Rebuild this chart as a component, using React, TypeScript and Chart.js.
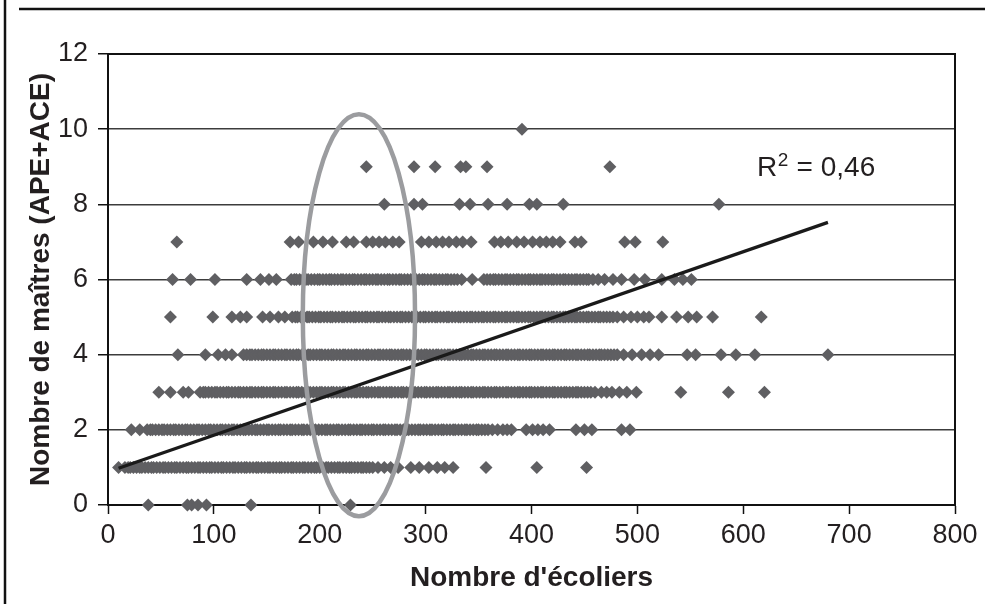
import { useEffect, useRef } from "react";
import { Chart, registerables } from "chart.js";

Chart.register(...registerables);

// ---- Data (x = Nombre d'écoliers, one array per value of y = Nombre de maîtres) ----
const LEVELS = [0, 1, 2, 3, 4, 5, 6, 7, 8, 9, 10];

const ROW0 = [38, 75, 79, 85, 93, 135, 229];
const ROW1 = [10, 16, 19, 21, 24, 27, 30, 32, 35, 38, 41, 43, 46, 49, 52, 54, 57, 60, 63, 65, 68, 71, 74, 76, 79, 82, 85, 87, 90, 93, 96, 98, 101, 104, 107, 109, 112, 115, 118, 120, 123, 126, 129, 131, 134, 137, 140, 142, 145, 148, 151, 153, 156, 159, 162, 164, 167, 170, 173, 175, 178, 181, 184, 186, 189, 192, 195, 197, 200, 203, 206, 208, 211, 214, 217, 219, 222, 225, 228, 230, 233, 236, 239, 241, 244, 247, 250, 255, 261, 267, 274, 286, 294, 303, 311, 318, 326, 357, 405, 452];
const ROW2 = [22, 30, 37, 40, 42, 45, 48, 51, 53, 56, 59, 62, 64, 67, 70, 73, 75, 78, 81, 84, 86, 89, 92, 95, 97, 100, 103, 106, 108, 111, 114, 117, 119, 122, 125, 128, 130, 133, 136, 139, 141, 144, 147, 150, 152, 155, 158, 161, 163, 166, 169, 172, 174, 177, 180, 183, 185, 188, 191, 194, 196, 199, 202, 205, 207, 210, 213, 216, 218, 221, 224, 227, 229, 232, 235, 238, 240, 243, 246, 249, 251, 254, 257, 260, 262, 265, 268, 271, 273, 276, 279, 282, 284, 287, 290, 293, 295, 298, 301, 304, 306, 309, 312, 315, 317, 320, 323, 326, 328, 331, 334, 337, 339, 342, 345, 348, 350, 353, 356, 359, 363, 368, 373, 377, 381, 395, 401, 406, 411, 417, 442, 450, 457, 485, 493];
const ROW3 = [48, 59, 71, 76, 87, 90, 92, 95, 98, 101, 103, 106, 109, 112, 114, 117, 120, 123, 125, 128, 131, 134, 136, 139, 142, 145, 147, 150, 153, 156, 158, 161, 164, 167, 169, 172, 175, 178, 180, 183, 186, 189, 191, 194, 197, 200, 202, 205, 208, 211, 213, 216, 219, 222, 224, 227, 230, 233, 235, 238, 241, 244, 246, 249, 252, 255, 257, 260, 263, 266, 268, 271, 274, 277, 279, 282, 285, 288, 290, 293, 296, 299, 301, 304, 307, 310, 312, 315, 318, 321, 323, 326, 329, 332, 334, 337, 340, 343, 345, 348, 351, 354, 356, 359, 362, 365, 367, 370, 373, 376, 378, 381, 384, 387, 389, 392, 395, 398, 400, 403, 406, 409, 411, 414, 417, 420, 422, 425, 428, 431, 433, 436, 439, 442, 444, 447, 450, 453, 456, 460, 466, 471, 476, 483, 490, 499, 541, 586, 620];
const ROW4 = [66, 92, 104, 111, 117, 128, 131, 134, 136, 139, 142, 145, 147, 150, 153, 156, 158, 161, 164, 167, 169, 172, 175, 178, 180, 183, 186, 189, 191, 194, 197, 200, 202, 205, 208, 211, 213, 216, 219, 222, 224, 227, 230, 233, 235, 238, 241, 244, 246, 249, 252, 255, 257, 260, 263, 266, 268, 271, 274, 277, 279, 282, 285, 288, 290, 293, 296, 299, 301, 304, 307, 310, 312, 315, 318, 321, 323, 326, 329, 332, 334, 337, 340, 343, 345, 348, 351, 354, 356, 359, 362, 365, 367, 370, 373, 376, 378, 381, 384, 387, 389, 392, 395, 398, 400, 403, 406, 409, 411, 414, 417, 420, 422, 425, 428, 431, 433, 436, 439, 442, 444, 447, 450, 453, 455, 458, 461, 464, 466, 469, 472, 475, 478, 481, 487, 495, 504, 512, 520, 547, 555, 579, 593, 611, 680];
const ROW5 = [59, 99, 117, 125, 131, 146, 153, 161, 167, 174, 177, 179, 182, 185, 188, 190, 193, 196, 199, 201, 204, 207, 210, 212, 215, 218, 221, 223, 226, 229, 232, 234, 237, 240, 243, 245, 248, 251, 254, 256, 259, 262, 265, 267, 270, 273, 276, 278, 281, 284, 287, 289, 292, 295, 298, 300, 303, 306, 309, 311, 314, 317, 320, 322, 325, 328, 331, 333, 336, 339, 342, 344, 347, 350, 353, 355, 358, 361, 364, 366, 369, 372, 375, 377, 380, 383, 386, 388, 391, 394, 397, 399, 402, 405, 408, 410, 413, 416, 419, 421, 424, 427, 430, 432, 435, 438, 441, 443, 446, 449, 452, 454, 457, 460, 463, 465, 468, 471, 474, 477, 481, 487, 494, 500, 506, 511, 523, 537, 548, 556, 571, 617];
const ROW6 = [61, 78, 101, 131, 144, 152, 159, 173, 176, 178, 181, 184, 187, 189, 192, 195, 198, 200, 203, 206, 209, 211, 214, 217, 220, 222, 225, 228, 231, 233, 236, 239, 242, 244, 247, 250, 253, 255, 258, 261, 264, 266, 269, 272, 275, 277, 280, 283, 286, 288, 291, 294, 297, 299, 302, 305, 308, 310, 313, 316, 319, 321, 324, 327, 330, 334, 344, 355, 358, 361, 364, 366, 369, 372, 375, 377, 380, 383, 386, 388, 391, 394, 397, 399, 402, 405, 408, 410, 413, 416, 419, 421, 424, 427, 430, 432, 435, 438, 441, 443, 446, 449, 452, 454, 458, 463, 469, 477, 485, 497, 507, 523, 535, 543, 551];
const ROW7 = [65, 172, 180, 194, 203, 212, 225, 232, 244, 250, 256, 262, 269, 275, 296, 303, 310, 316, 322, 329, 335, 343, 365, 371, 378, 386, 393, 401, 408, 414, 420, 427, 441, 447, 488, 498, 524];
const ROW8 = [261, 289, 297, 332, 342, 359, 377, 398, 405, 430, 577];
const ROW9 = [244, 289, 309, 333, 338, 358, 474];
const ROW10 = [391];

const ROWS = [ROW0, ROW1, ROW2, ROW3, ROW4, ROW5, ROW6, ROW7, ROW8, ROW9, ROW10];

// Linear trend line end points
const TREND_X = [10, 680];
const TREND_Y = [0.98, 7.52];
const R2_LABEL = ["R", "2", " = 0,46"];
const R2_AT = { x: 613, y: 8.75 };

// Highlight ellipse (data units)
const ELLIPSE = { cx: 237, cy: 5.05, rx: 53, ry: 5.35 };

// Axes
const X_MIN = 0, X_MAX = 800, X_STEP = 100;
const Y_MIN = 0, Y_MAX = 12, Y_STEP = 2;
const X_TITLE = "Nombre d'écoliers";
const Y_TITLE = "Nombre de maîtres (APE+ACE)";

const FONT = '"Liberation Sans", Arial, sans-serif';
const TEXT = "#231f20";

const overlayPlugin = {
  id: "overlay",
  beforeDraw(chart: any) {
    const { ctx, width, height } = chart;
    ctx.save();
    ctx.fillStyle = "#ffffff";
    ctx.fillRect(0, 0, width, height);
    ctx.strokeStyle = "#111";
    ctx.lineWidth = 2.5;
    ctx.beginPath();
    ctx.moveTo(19, 9);
    ctx.lineTo(width, 9);
    ctx.moveTo(5, 0);
    ctx.lineTo(5, height);
    ctx.stroke();
    ctx.restore();
  },
  beforeDatasetsDraw(chart: any) {
    const { ctx, chartArea: a } = chart;
    ctx.save();
    ctx.strokeStyle = "#111";
    ctx.lineWidth = 2;
    ctx.strokeRect(a.left, a.top, a.right - a.left, a.bottom - a.top);
    ctx.restore();
  },
  afterDraw(chart: any) {
    const { ctx } = chart;
    const x = chart.scales.x;
    const y = chart.scales.y;
    ctx.save();
    const cx = x.getPixelForValue(ELLIPSE.cx);
    const cy = y.getPixelForValue(ELLIPSE.cy);
    const rx = x.getPixelForValue(ELLIPSE.cx + ELLIPSE.rx) - cx;
    const ry = cy - y.getPixelForValue(ELLIPSE.cy + ELLIPSE.ry);
    ctx.beginPath();
    ctx.ellipse(cx, cy, rx, ry, 0, 0, Math.PI * 2);
    ctx.strokeStyle = "#9b9c9f";
    ctx.lineWidth = 4.5;
    ctx.stroke();

    // R² label
    const px = x.getPixelForValue(R2_AT.x);
    const py = y.getPixelForValue(R2_AT.y);
    ctx.fillStyle = TEXT;
    ctx.textBaseline = "alphabetic";
    ctx.textAlign = "left";
    ctx.font = `28px ${FONT}`;
    ctx.fillText(R2_LABEL[0], px, py);
    const w0 = ctx.measureText(R2_LABEL[0]).width;
    ctx.font = `19px ${FONT}`;
    ctx.fillText(R2_LABEL[1], px + w0 + 0.5, py - 10);
    const w1 = ctx.measureText(R2_LABEL[1]).width;
    ctx.font = `28px ${FONT}`;
    ctx.fillText(R2_LABEL[2], px + w0 + w1 + 1, py);
    ctx.restore();
  },
};

export default function App() {
  const ref = useRef<HTMLCanvasElement | null>(null);

  useEffect(() => {
    if (!ref.current) return;
    const points: { x: number; y: number }[] = [];
    ROWS.forEach((row, i) => {
      row.forEach((v) => points.push({ x: v, y: LEVELS[i] }));
    });
    const trend = TREND_X.map((v, i) => ({ x: v, y: TREND_Y[i] }));

    const chart = new Chart(ref.current, {
      type: "scatter",
      data: {
        datasets: [
          {
            type: "line",
            label: "trend",
            data: trend,
            borderColor: "#1a1a1a",
            borderWidth: 3.2,
            pointRadius: 0,
            fill: false,
            order: 0,
            clip: false,
          } as any,
          {
            label: "écoles",
            data: points,
            pointStyle: "rectRot",
            pointRadius: 6.5,
            pointHoverRadius: 6.5,
            backgroundColor: "#5f5f62",
            borderColor: "#5f5f62",
            borderWidth: 0,
            order: 1,
            clip: false,
          } as any,
        ],
      },
      options: {
        responsive: false,
        animation: false,
        devicePixelRatio: 1,
        layout: { padding: { left: 0, top: 54, right: 30, bottom: 0 } },
        plugins: {
          legend: { display: false },
          tooltip: { enabled: false },
        },
        scales: {
          x: {
            type: "linear",
            min: X_MIN,
            max: X_MAX,
            afterFit: (s: any) => {
              s.height = 99;
            },
            ticks: {
              stepSize: X_STEP,
              padding: 5,
              color: TEXT,
              font: { family: FONT, size: 27 },
            },
            grid: {
              drawOnChartArea: false,
              drawTicks: true,
              tickLength: 9,
              tickColor: "#111",
              tickWidth: 1.5,
              color: "#111",
            },
            border: { display: true, color: "#111", width: 2 },
            title: {
              display: true,
              text: X_TITLE,
              color: TEXT,
              font: { family: FONT, size: 28, weight: "bold" },
              padding: { top: 0, bottom: 9 },
            },
          },
          y: {
            type: "linear",
            min: Y_MIN,
            max: Y_MAX,
            afterFit: (s: any) => {
              s.width = 108;
            },
            ticks: {
              stepSize: Y_STEP,
              padding: 10,
              color: TEXT,
              font: { family: FONT, size: 27 },
            },
            grid: {
              drawOnChartArea: true,
              drawTicks: true,
              tickLength: 10,
              color: "#3c3c3c",
              lineWidth: 1.5,
              tickColor: "#111",
              tickWidth: 1.5,
            },
            border: { display: true, color: "#111", width: 2 },
            title: {
              display: true,
              text: Y_TITLE,
              color: TEXT,
              font: { family: FONT, size: 28, weight: "bold" },
              padding: { top: 24, bottom: 0 },
            },
          },
        },
      },
      plugins: [overlayPlugin],
    });
    return () => chart.destroy();
  }, []);

  return (
    <div style={{ position: "absolute", left: 0, top: 0, width: 985, height: 604 }}>
      <canvas ref={ref} width={985} height={604} style={{ display: "block" }} />
    </div>
  );
}
